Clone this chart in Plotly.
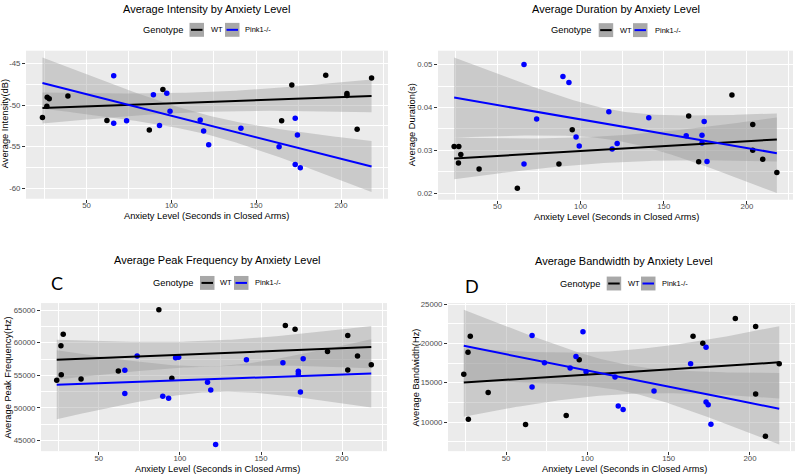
import numpy as np
import plotly.graph_objects as go

# ---------------- data ----------------
groups = ["WT", "Pink1-/-"]
group_colors = ["#000000", "#0000FF"]

x_wt = [24, 26.6, 26.8, 28, 39, 62, 87, 95, 165, 171, 191, 203.5, 203.5, 209.5, 218]
x_pk = [66, 66, 73.6, 89.4, 93, 97.3, 99.2, 117, 119, 122, 141, 163.5, 173, 173, 174.3, 176]

intensity_wt = [-51.5, -50.16, -49.05, -49.25, -48.9, -51.87, -53.0, -48.13, -51.9, -47.6,
                -46.43, -48.6, -48.85, -52.9, -46.75]
intensity_pk = [-46.47, -52.2, -51.9, -48.77, -52.46, -48.57, -50.75, -51.79, -53.13, -54.76,
                -52.78, -55.0, -51.59, -57.14, -53.6, -57.54]

duration_wt = [0.0309, 0.0270, 0.0309, 0.0290, 0.0256, 0.0211, 0.0268, 0.0348, 0.0380, 0.0273,
               0.0429, 0.0360, 0.0300, 0.0279, 0.0248]
duration_pk = [0.0500, 0.0268, 0.0373, 0.0472, 0.0458, 0.0331, 0.0310, 0.0390, 0.0303, 0.0316,
               0.0376, 0.0334, 0.0335, 0.0317, 0.0367, 0.0274]

peak_wt = [54240, 59550, 55100, 61310, 54440, 55660, 65050, 54550, 62630, 62070,
           58640, 61110, 55810, 57980, 56620]
peak_pk = [55760, 52220, 57980, 51770, 51460, 57680, 57780, 53940, 52730, 44390,
           57370, 56920, 55610, 55200, 52420, 57530]

bandwidth_wt = [16077, 18880, 10340, 20900, 13770, 9670, 10840, 17920, 20900, 20010,
                23160, 22150, 13560, 8200, 17420]
bandwidth_pk = [21020, 14440, 17540, 16870, 18340, 21480, 16410, 15740, 12050, 11590,
                13940, 17420, 19510, 12560, 12180, 9710]

titles = ["Average Intensity by Anxiety Level", "Average Duration by Anxiety Level",
          "Average Peak Frequency by Anxiety Level", "Average Bandwidth by Anxiety Level"]
y_titles = ["Average Intensity(dB)", "Average Duration(s)",
            "Average Peak Frequency(Hz)", "Average Bandwidth(Hz)"]
x_title = "Anxiety Level (Seconds in Closed Arms)"
panel_letters = ["", "", "C", "D"]

x_ticks = [50, 100, 150, 200]
x_minor = [25, 75, 125, 175, 225]
intensity_ticks = [-60, -55, -50, -45]
intensity_minor = [-62.5, -57.5, -52.5, -47.5]
duration_ticks = [0.02, 0.03, 0.04, 0.05]
duration_minor = [0.015, 0.025, 0.035, 0.045, 0.055]
peak_ticks = [45000, 50000, 55000, 60000, 65000]
peak_minor = [42500, 47500, 52500, 57500, 62500, 67500]
bandwidth_ticks = [10000, 15000, 20000, 25000]
bandwidth_minor = [7500, 12500, 17500, 22500]

# t quantiles (0.975) for n-2 degrees of freedom
t_975 = {13: 2.160, 14: 2.145}

# ---------------- helpers ----------------
def lm_band(x, y, xs):
    x = np.asarray(x, float); y = np.asarray(y, float)
    n = len(x)
    b1, b0 = np.polyfit(x, y, 1)
    fit = b0 + b1 * xs
    resid = y - (b0 + b1 * x)
    s = np.sqrt(np.sum(resid ** 2) / (n - 2))
    sxx = np.sum((x - x.mean()) ** 2)
    se = s * np.sqrt(1.0 / n + (xs - x.mean()) ** 2 / sxx)
    t = t_975[n - 2]
    return fit, fit - t * se, fit + t * se

W, H = 800, 475
def px(v):
    return v / W
def py(v):
    return 1 - v / H

FONT = "Liberation Sans"
BAND = "rgba(153,153,153,0.4)"

panels = [
    dict(wt=intensity_wt, pk=intensity_pk, ticks=intensity_ticks, minor=intensity_minor,
         text=["%g" % v for v in intensity_ticks],
         dom_x=(26, 388), dom_y=(48, 197), title_xy=(207, 6), xt_xy=(207, 214.5), yt_xy=(5, 122),
         leg=(185, 27, 189.5, 209, 225, 243), letter_xy=None),
    dict(wt=duration_wt, pk=duration_pk, ticks=duration_ticks, minor=duration_minor,
         text=["%.2f" % v for v in duration_ticks],
         dom_x=(438, 793), dom_y=(48, 198), title_xy=(616, 6), xt_xy=(616, 215.5), yt_xy=(412, 123),
         leg=(593, 27.3, 598.7, 618, 633, 653), letter_xy=None),
    dict(wt=peak_wt, pk=peak_pk, ticks=peak_ticks, minor=peak_minor,
         text=["%d" % v for v in peak_ticks],
         dom_x=(41, 387), dom_y=(302, 451), title_xy=(217, 259), xt_xy=(217, 468.5), yt_xy=(8, 377),
         leg=(195, 281.7, 200, 218, 234, 253), letter_xy=(57, 282)),
    dict(wt=bandwidth_wt, pk=bandwidth_pk, ticks=bandwidth_ticks, minor=bandwidth_minor,
         text=["%d" % v for v in bandwidth_ticks],
         dom_x=(448, 795), dom_y=(302, 451), title_xy=(624, 260), xt_xy=(624, 469), yt_xy=(416, 377),
         leg=(601.7, 282.3, 606.7, 626, 641, 660), letter_xy=(472, 285)),
]

x_all = np.array(x_wt + x_pk, float)
xs = np.linspace(x_all.min(), x_all.max(), 120)
xpad = 0.05 * (x_all.max() - x_all.min())
x_range = [x_all.min() - xpad, x_all.max() + xpad]

fig = go.Figure()
annotations = []
shapes = []
layout_axes = {}

for i, p in enumerate(panels):
    k = "" if i == 0 else str(i + 1)
    xa, ya = "x" + k, "y" + k
    ymins, ymaxs = [], []
    series = [(x_wt, p["wt"]), (x_pk, p["pk"])]
    fits = []
    for (gx, gy) in series:
        fit, lo, hi = lm_band(gx, gy, xs)
        fits.append((fit, lo, hi))
        ymins += [lo.min(), min(gy)]
        ymaxs += [hi.max(), max(gy)]
    # bands
    for (fit, lo, hi) in fits:
        fig.add_trace(go.Scatter(
            x=np.concatenate([xs, xs[::-1]]), y=np.concatenate([hi, lo[::-1]]),
            mode="lines", fill="toself", fillcolor=BAND, line=dict(width=0),
            hoverinfo="skip", showlegend=False, xaxis=xa, yaxis=ya))
    # points
    for g, (gx, gy) in enumerate(series):
        fig.add_trace(go.Scatter(
            x=gx, y=gy, mode="markers", name=groups[g],
            marker=dict(color=group_colors[g], size=5.5),
            showlegend=False, xaxis=xa, yaxis=ya))
    # fitted lines
    for g, (fit, lo, hi) in enumerate(fits):
        fig.add_trace(go.Scatter(
            x=xs, y=fit, mode="lines", name=groups[g],
            line=dict(color=group_colors[g], width=2),
            showlegend=False, xaxis=xa, yaxis=ya))

    ymin, ymax = min(ymins), max(ymaxs)
    ypad = 0.05 * (ymax - ymin)
    common = dict(showgrid=True, gridcolor="white", gridwidth=1.1, zeroline=False,
                  showline=False, ticks="outside", ticklen=3, tickwidth=1, tickcolor="#333333",
                  tickfont=dict(family=FONT, size=7.8, color="#4D4D4D"))
    layout_axes["xaxis" + k] = dict(
        domain=[px(p["dom_x"][0]), px(p["dom_x"][1])], anchor=ya, range=x_range,
        tickmode="array", tickvals=x_ticks, ticktext=[str(v) for v in x_ticks],
        ticklabelstandoff=-4,
        minor=dict(tickmode="array", tickvals=x_minor, showgrid=True, gridcolor="white",
                   gridwidth=0.5, ticklen=0),
        **common)
    layout_axes["yaxis" + k] = dict(
        domain=[py(p["dom_y"][1]), py(p["dom_y"][0])], anchor=xa,
        range=[ymin - ypad, ymax + ypad],
        tickmode="array", tickvals=p["ticks"], ticktext=p["text"],
        minor=dict(tickmode="array", tickvals=p["minor"], showgrid=True, gridcolor="white",
                   gridwidth=0.5, ticklen=0),
        **common)

    # titles
    annotations.append(dict(text=titles[i], x=px(p["title_xy"][0]), y=py(p["title_xy"][1]),
                            xref="paper", yref="paper", showarrow=False, xanchor="center",
                            yanchor="middle", font=dict(family=FONT, size=11, color="black")))
    annotations.append(dict(text=x_title, x=px(p["xt_xy"][0]), y=py(p["xt_xy"][1]),
                            xref="paper", yref="paper", showarrow=False, xanchor="center",
                            yanchor="middle", font=dict(family=FONT, size=9.3, color="black")))
    annotations.append(dict(text=y_titles[i], x=px(p["yt_xy"][0]), y=py(p["yt_xy"][1]),
                            xref="paper", yref="paper", showarrow=False, xanchor="center",
                            yanchor="middle", textangle=-90,
                            font=dict(family=FONT, size=9.3, color="black")))
    if panel_letters[i]:
        annotations.append(dict(text=panel_letters[i], x=px(p["letter_xy"][0]), y=py(p["letter_xy"][1]),
                                xref="paper", yref="paper", showarrow=False, xanchor="center",
                                yanchor="middle", font=dict(family="Lato", size=18, color="black")))
    # legend (drawn by hand, ggplot style)
    gx_right, gy_c, k1, t1, k2, t2 = p["leg"]
    annotations.append(dict(text="Genotype", x=px(gx_right), y=py(gy_c), xref="paper", yref="paper",
                            showarrow=False, xanchor="right", yanchor="middle",
                            font=dict(family=FONT, size=9.3, color="black")))
    for g, (kx, tx) in enumerate([(k1, t1), (k2, t2)]):
        shapes.append(dict(type="rect", xref="paper", yref="paper",
                           x0=px(kx), x1=px(kx + 14.5), y0=py(gy_c + 7), y1=py(gy_c - 7),
                           fillcolor="#A8A8A8", line=dict(width=0), layer="above"))
        shapes.append(dict(type="line", xref="paper", yref="paper",
                           x0=px(kx + 1.5), x1=px(kx + 13), y0=py(gy_c), y1=py(gy_c),
                           line=dict(color=group_colors[g], width=2), layer="above"))
        annotations.append(dict(text=groups[g], x=px(tx), y=py(gy_c), xref="paper", yref="paper",
                                showarrow=False, xanchor="left", yanchor="middle",
                                font=dict(family=FONT, size=7.5, color="black")))

fig.update_layout(
    width=W, height=H, margin=dict(l=0, r=0, t=0, b=0),
    paper_bgcolor="white", plot_bgcolor="#EBEBEB",
    showlegend=False, annotations=annotations, shapes=shapes,
    **layout_axes)

fig.write_html("out.html", config={"displayModeBar": False},
               post_script="document.body.style.margin='0';document.body.style.overflow='hidden';")
